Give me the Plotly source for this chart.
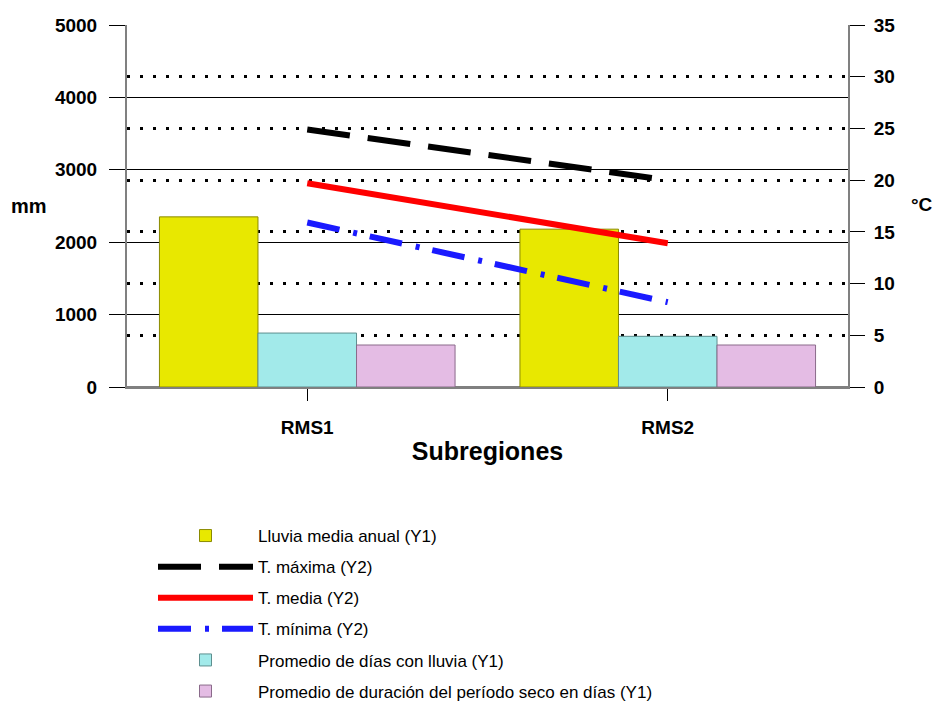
import plotly.graph_objects as go

categories = ["RMS1", "RMS2"]
lluvia_media = [2350, 2180]
dias_lluvia = [745, 700]
periodo_seco = [580, 580]
t_maxima = [24.9, 20.0]
t_media = [19.7, 13.9]
t_minima = [15.9, 8.2]

names = [
    "Lluvia media anual (Y1)",
    "T. máxima (Y2)",
    "T. media (Y2)",
    "T. mínima (Y2)",
    "Promedio de días con lluvia (Y1)",
    "Promedio de duración del período seco en días (Y1)",
]

W, H = 935, 706
FONT = "Liberation Sans, Arial, sans-serif"

fig = go.Figure()
fig.add_trace(go.Bar(x=categories, y=lluvia_media, name=names[0], yaxis="y",
                     marker=dict(color="#E8E800", line=dict(color="#8A8A00", width=1)),
                     legendgroup="a"))
fig.add_trace(go.Scatter(x=categories, y=t_maxima, name=names[1], yaxis="y2", mode="lines",
                         line=dict(color="black", width=6, dash="43px,18px"), legendgroup="b"))
fig.add_trace(go.Scatter(x=categories, y=t_media, name=names[2], yaxis="y2", mode="lines",
                         line=dict(color="#FF0000", width=6), legendgroup="c"))
fig.add_trace(go.Scatter(x=categories, y=t_minima, name=names[3], yaxis="y2", mode="lines",
                         line=dict(color="#1A1AFF", width=6, dash="33px,14px,4px,13px"), legendgroup="d"))
fig.add_trace(go.Bar(x=categories, y=dias_lluvia, name=names[4], yaxis="y",
                     marker=dict(color="#A2EAEA", line=dict(color="#5E8F8F", width=1)),
                     legendgroup="e"))
fig.add_trace(go.Bar(x=categories, y=periodo_seco, name=names[5], yaxis="y",
                     marker=dict(color="#E4BCE4", line=dict(color="#8A6A8A", width=1)),
                     legendgroup="f"))

fig.update_layout(
    width=W, height=H,
    margin=dict(l=127, r=87, t=25, b=319, autoexpand=False),
    paper_bgcolor="white", plot_bgcolor="white",
    font=dict(family=FONT, color="black"),
    barmode="group", bargap=0.18, bargroupgap=0,
    showlegend=True,
    legend=dict(
        xref="container", yref="container",
        x=153 / W, y=1 - 518 / H, xanchor="left", yanchor="top",
        font=dict(family=FONT, size=17, color="black"),
        traceorder="grouped", tracegroupgap=6,
        itemwidth=95, bgcolor="rgba(0,0,0,0)",
    ),
    xaxis=dict(
        range=[-0.5, 1.5],
        showline=True, linecolor="#808080", linewidth=2,
        ticks="outside", ticklen=12, tickcolor="black", tickwidth=1,
        tickfont=dict(family=FONT, size=19, weight="bold"),
        ticklabelstandoff=10, tickangle=0,
        showgrid=False, zeroline=False,
        title=dict(text="Subregiones", font=dict(family=FONT, size=25, weight="bold"), standoff=6),
    ),
    yaxis=dict(
        range=[0, 5000], tickvals=[0, 1000, 2000, 3000, 4000, 5000],
        showline=True, linecolor="#808080", linewidth=2,
        ticks="outside", ticklen=16, tickcolor="black", tickwidth=1,
        tickfont=dict(family=FONT, size=19, weight="bold"),
        ticklabelstandoff=8,
        showgrid=True, gridcolor="black", gridwidth=1,
        zeroline=True, zerolinecolor="#808080", zerolinewidth=2,
    ),
    yaxis2=dict(
        range=[0, 35], tickvals=[0, 5, 10, 15, 20, 25, 30, 35],
        overlaying="y", side="right",
        showline=True, linecolor="#808080", linewidth=2,
        ticks="outside", ticklen=15, tickcolor="black", tickwidth=1,
        tickfont=dict(family=FONT, size=19, weight="bold"),
        ticklabelstandoff=5,
        showgrid=True, gridcolor="black", gridwidth=3, griddash="3px,10px",
        zeroline=False,
    ),
    annotations=[
        dict(text="mm", xref="paper", yref="paper", x=-98 / 721, y=(387 - 206) / 362,
             xanchor="center", yanchor="middle", showarrow=False,
             font=dict(family=FONT, size=20, weight="bold")),
        dict(text="°C", xref="paper", yref="paper", x=(922 - 127) / 721, y=(387 - 205) / 362,
             xanchor="center", yanchor="middle", showarrow=False,
             font=dict(family=FONT, size=19, weight="bold")),
    ],
)

fig.write_html("out.html", config={"displayModeBar": False},
               post_script="document.body.style.margin='0';")
